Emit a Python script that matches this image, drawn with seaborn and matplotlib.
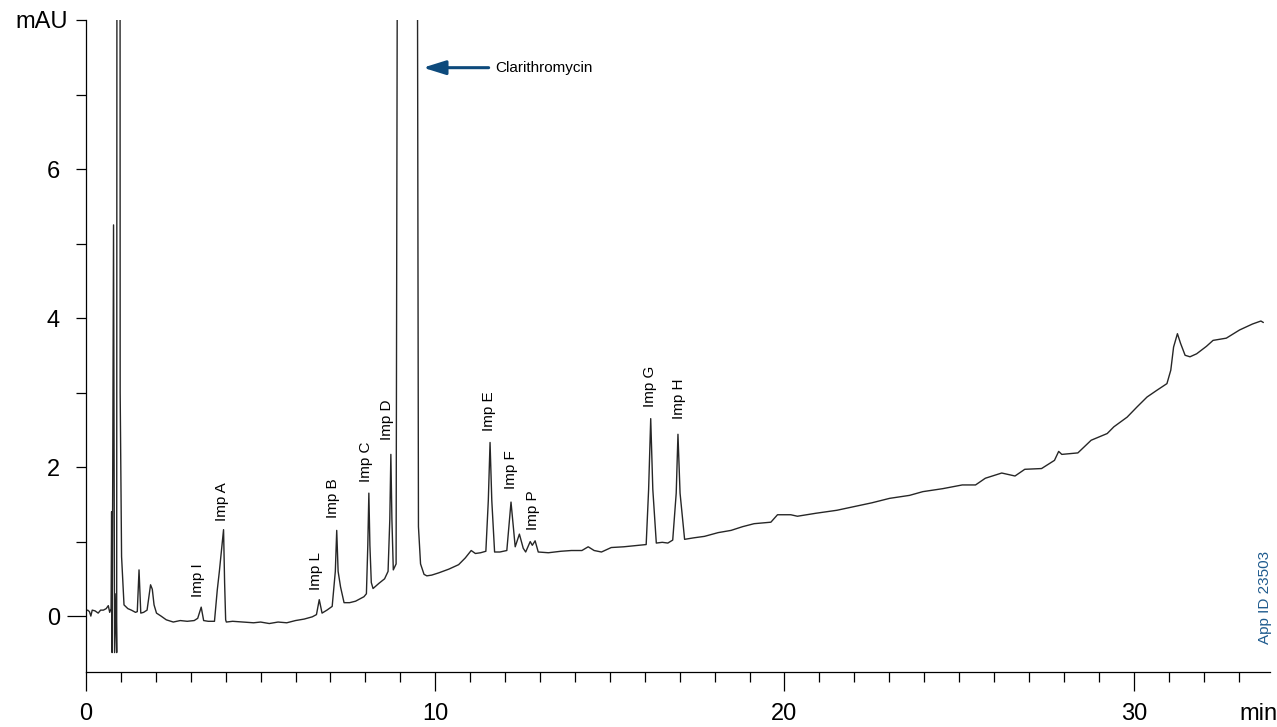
import numpy as np
import pandas as pd
import matplotlib
matplotlib.use("Agg")
import matplotlib.pyplot as plt
from matplotlib.ticker import MultipleLocator
import seaborn as sns

# Chromatogram trace (time in min, signal in mAU)
time_min = [
    0.00, 0.05, 0.10, 0.14, 0.18, 0.26, 0.35, 0.42, 0.50, 0.58, 0.64, 0.68,
    0.72, 0.735, 0.75, 0.79, 0.82, 0.86, 0.88, 0.94, 0.98, 1.02, 1.09, 1.20,
    1.30, 1.42, 1.47, 1.52, 1.57, 1.65, 1.75, 1.85, 1.90, 1.95, 2.02, 2.15,
    2.30, 2.50, 2.70, 2.90, 3.10, 3.20, 3.30, 3.37, 3.50, 3.68, 3.76, 3.82,
    3.94, 3.97, 4.00, 4.02, 4.20, 4.50, 4.80, 5.00, 5.25, 5.50, 5.75, 6.00, 6.25,
    6.48, 6.60, 6.68, 6.76, 6.90, 7.05, 7.14, 7.18, 7.22, 7.29, 7.39, 7.55, 7.72, 7.96,
    8.03, 8.07, 8.10, 8.13, 8.17, 8.22, 8.39, 8.55, 8.65, 8.70, 8.73, 8.76, 8.80,
    8.88, 9.22, 9.52,
    9.58, 9.68, 9.76, 9.90, 10.10, 10.39, 10.67, 10.86, 11.03, 11.15, 11.30,
    11.45, 11.52, 11.57, 11.62, 11.70, 11.85, 12.05, 12.17, 12.29, 12.41, 12.52, 12.59,
    12.72, 12.78, 12.86, 12.95, 13.24, 13.60, 13.90, 14.20, 14.38, 14.55,
    14.76, 15.04, 15.40, 15.81, 16.04, 16.11, 16.17, 16.23, 16.33, 16.50, 16.66, 16.80,
    16.90, 16.95, 17.01, 17.14, 17.40, 17.71, 18.10, 18.47, 18.80, 19.13, 19.61, 19.80,
    20.18, 20.37, 20.90, 21.50, 22.00, 22.50, 23.01, 23.58, 23.96, 24.53,
    25.09, 25.47, 25.75, 26.22, 26.60, 26.88, 27.36, 27.73, 27.85, 27.94,
    28.40, 28.78, 29.24, 29.43, 29.81, 30.10, 30.38, 30.66, 30.95, 31.06,
    31.14, 31.25, 31.34, 31.47, 31.61, 31.80, 32.08, 32.27, 32.65, 33.03,
    33.40, 33.64, 33.71,
]
signal_mau = [
    0.07, 0.08, 0.06, 0.00, 0.08, 0.07, 0.04, 0.08, 0.08, 0.10, 0.14, 0.05,
    0.10, 1.40, -0.49, 5.25, -0.49, 0.30, -0.49, 80.0, 3.00, 0.80, 0.15, 0.10,
    0.08, 0.05, 0.06, 0.62, 0.04, 0.05, 0.08, 0.42, 0.36, 0.15, 0.04, 0.00,
    -0.05, -0.08, -0.06, -0.07, -0.06, -0.03, 0.12, -0.06, -0.07, -0.07, 0.35, 0.60,
    1.16, 0.45, -0.05, -0.08, -0.07, -0.08, -0.09, -0.08, -0.10, -0.08, -0.09, -0.06, -0.04,
    -0.01, 0.02, 0.22, 0.04, 0.08, 0.13, 0.60, 1.15, 0.60, 0.39, 0.18, 0.18, 0.20, 0.26,
    0.30, 0.95, 1.65, 0.95, 0.45, 0.37, 0.44, 0.50, 0.60, 1.30, 2.17, 1.30, 0.62,
    0.70, 80.0, 1.20,
    0.70, 0.56, 0.54, 0.55, 0.58, 0.63, 0.69, 0.78, 0.88, 0.84, 0.85,
    0.87, 1.55, 2.33, 1.55, 0.86, 0.86, 0.88, 1.53, 0.93, 1.10, 0.91, 0.86,
    1.00, 0.95, 1.01, 0.86, 0.85, 0.87, 0.88, 0.88, 0.93, 0.88,
    0.86, 0.92, 0.93, 0.95, 0.96, 1.70, 2.65, 1.70, 0.98, 0.99, 0.98, 1.02,
    1.65, 2.44, 1.65, 1.03, 1.05, 1.07, 1.12, 1.15, 1.20, 1.24, 1.26, 1.36,
    1.36, 1.34, 1.38, 1.42, 1.47, 1.52, 1.58, 1.62, 1.67, 1.71,
    1.76, 1.76, 1.85, 1.92, 1.88, 1.97, 1.98, 2.09, 2.21, 2.17,
    2.19, 2.36, 2.45, 2.54, 2.67, 2.81, 2.94, 3.03, 3.12, 3.30,
    3.61, 3.79, 3.66, 3.50, 3.48, 3.52, 3.62, 3.70, 3.73, 3.84,
    3.92, 3.96, 3.94,
]

# Peak labels: name, label x position (min), label bottom (mAU)
peak_names = ["Imp I", "Imp A", "Imp L", "Imp B", "Imp C", "Imp D",
              "Imp E", "Imp F", "Imp P", "Imp G", "Imp H"]
peak_label_x = [3.20, 3.90, 6.58, 7.08, 8.03, 8.63, 11.53, 12.17, 12.81, 16.16, 16.97]
peak_label_y = [0.26, 1.27, 0.35, 1.31, 1.80, 2.36, 2.49, 1.70, 1.15, 2.81, 2.65]

x_ticks = [0, 10, 20, 30]
y_ticks = [0, 2, 4, 6, 8]
y_tick_labels = ["0", "2", "4", "6", "mAU"]

df = pd.DataFrame({"time": time_min, "signal": signal_mau})

sns.set_style("ticks")
plt.rcParams['font.family'] = ['Liberation Sans', 'DejaVu Sans']
for key in ['text.color', 'xtick.color', 'ytick.color', 'axes.labelcolor']:
    plt.rcParams[key] = 'black'
narrow = ['Liberation Sans Narrow', 'Liberation Sans', 'DejaVu Sans']

fig = plt.figure(figsize=(12.77, 7.27), dpi=100)
ax = fig.add_axes([0.0673, 0.0757, 0.9272, 0.8968])

sns.lineplot(data=df, x="time", y="signal", ax=ax, sort=False, estimator=None,
             color="#262626", linewidth=1.0)

ax.set_xlim(0, 33.9)
ax.set_ylim(-0.75, 8)
ax.set_xlabel("")
ax.set_ylabel("")

# Axes, spines and ticks
for side in ["top", "right"]:
    ax.spines[side].set_visible(False)
for side in ["left", "bottom"]:
    ax.spines[side].set_linewidth(0.9)
    ax.spines[side].set_color("black")

ax.set_xticks(x_ticks)
ax.xaxis.set_minor_locator(MultipleLocator(1))
ax.set_yticks(y_ticks, labels=y_tick_labels)
ax.yaxis.set_minor_locator(MultipleLocator(1))
ax.tick_params(axis="x", which="major", length=13.7, width=0.9, labelsize=17, pad=9)
ax.tick_params(axis="x", which="minor", length=7.2, width=0.9)
ax.tick_params(axis="y", which="major", length=7.2, width=0.9, labelsize=17, pad=11.5)
ax.tick_params(axis="y", which="minor", length=7.2, width=0.9)

# longer tick at zero, "mAU" sits a bit closer to the axis
yticks = ax.yaxis.get_major_ticks()
yticks[0].tick1line.set_markersize(13.7)
yticks[4].set_pad(5.5)

# unit label at the end of the time axis
ax.annotate("min", xy=(33.57, 0), xycoords=("data", "axes fraction"),
            xytext=(0, -22.7), textcoords="offset points",
            ha="center", va="top", fontsize=17)

# Peak labels
for name, x, y in zip(peak_names, peak_label_x, peak_label_y):
    ax.text(x, y, name, rotation=90, ha="center", va="bottom",
            fontsize=11, family=narrow)

# Main peak arrow
ax.annotate("", xy=(9.65, 7.36), xytext=(11.53, 7.36),
            arrowprops=dict(arrowstyle="-|>,head_length=0.8,head_width=0.25",
                            color="#0d4a7c", lw=2.2, mutation_scale=17,
                            shrinkA=0, shrinkB=0))
ax.text(11.72, 7.36, "Clarithromycin", ha="left", va="center",
        fontsize=11, family=narrow)

fig.text(0.9906, 0.178, "App ID 23503", rotation=90, ha="center", va="center",
         fontsize=11, color="#1f5b8e")

fig.savefig("out.png", dpi=100, facecolor="white")
